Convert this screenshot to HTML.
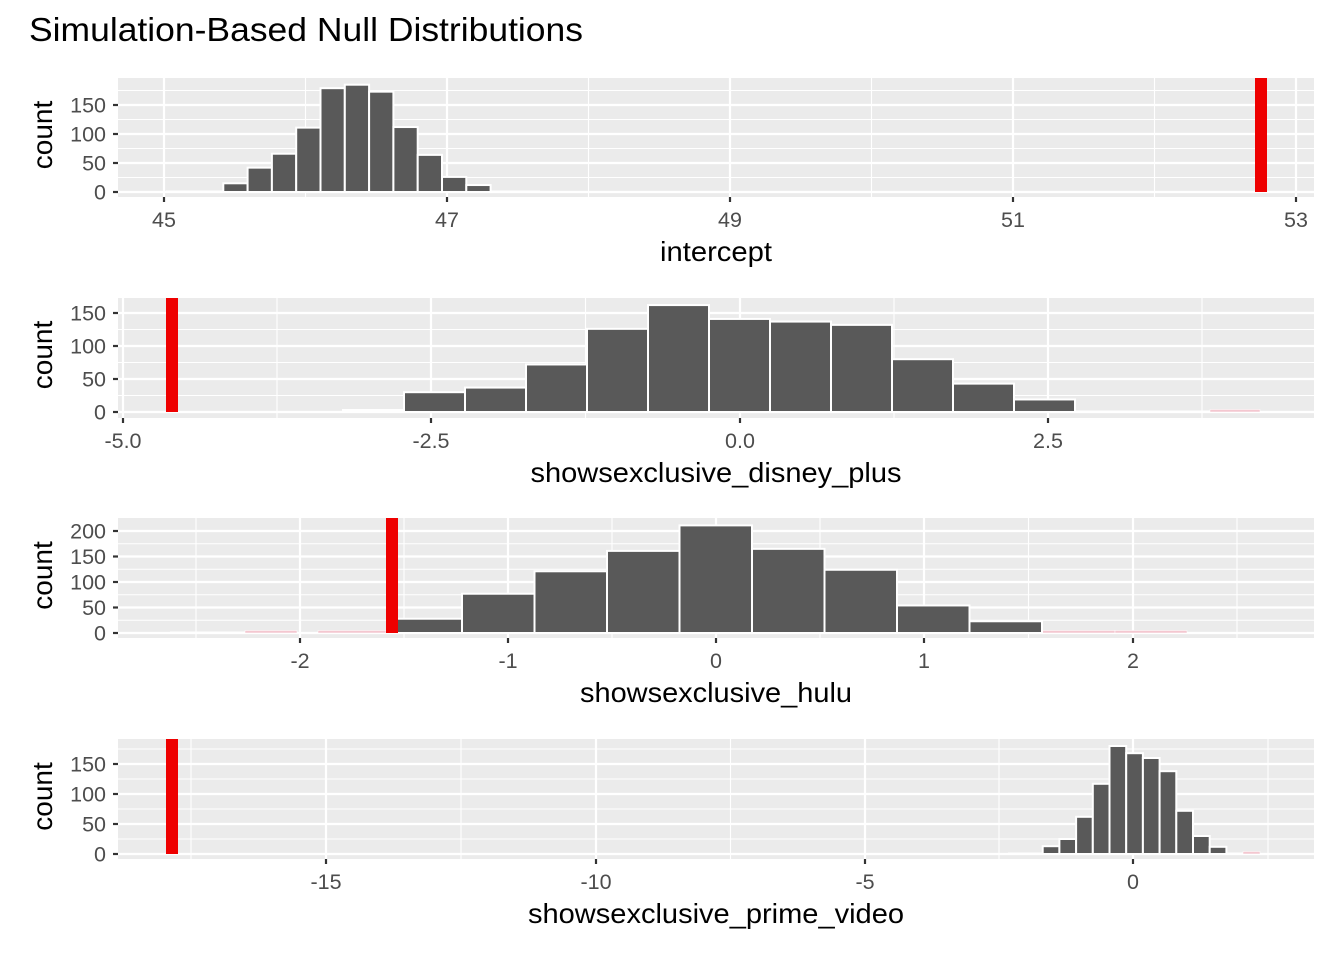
<!DOCTYPE html>
<html><head><meta charset="utf-8"><style>
html,body{margin:0;padding:0;background:#fff;}
svg{display:block;font-family:"Liberation Sans",sans-serif;}
</style></head><body>
<svg id="s" width="1344" height="960" xmlns="http://www.w3.org/2000/svg">
<text x="29" y="41" font-size="33" fill="#000" textLength="554" lengthAdjust="spacingAndGlyphs">Simulation-Based Null Distributions</text>
</svg>
<script>
const NS="http://www.w3.org/2000/svg",S=document.getElementById('s');
function el(t,a,txt){const e=document.createElementNS(NS,t);for(const k in a)e.setAttribute(k,a[k]);if(txt!==undefined)e.textContent=txt;S.appendChild(e);return e;}
const X0=118,X1=1314;
const panels=[
{top:78,bot:197,base:192,ppc:0.58,xmaj:[[164,'45'],[447,'47'],[730,'49'],[1013,'51'],[1296,'53']],xmin:[305.5,588.5,871.5,1154.5],
 ymaj:[[0,'0'],[50,'50'],[100,'100'],[150,'150']],ymin:[25,75,125,175],
 bars:{start:223.3,w:24.3,h:[15,42,66,111,179,185,173,112,64,26,12]},faint:[[166,223],[491,540]],pink:[],
 red:[1255,1267],title:'intercept',tl:112},
{top:298,bot:418,base:412,ppc:0.66,xmaj:[[123,'-5.0'],[431,'-2.5'],[740,'0.0'],[1048,'2.5']],xmin:[277,585.5,894,1202],
 ymaj:[[0,'0'],[50,'50'],[100,'100'],[150,'150']],ymin:[25,75,125,175],
 bars:{start:343,w:61,h:[3,30,37,72,126,162,141,137,132,80,43,19]},faint:[[1075,1210]],pink:[[1210,1260]],
 red:[166,178],title:'showsexclusive_disney_plus',tl:371},
{top:518,bot:638,base:633,ppc:0.51,xmaj:[[300,'-2'],[508,'-1'],[716,'0'],[924,'1'],[1133,'2']],xmin:[196,404,612,820,1028.5,1237],
 ymaj:[[0,'0'],[50,'50'],[100,'100'],[150,'150'],[200,'200']],ymin:[25,75,125,175],
 bars:{start:389.5,w:72.5,h:[28,77,121,161,211,165,124,54,23]},faint:[[170,245]],pink:[[245,297],[318,386],[1042,1115],[1115,1187]],
 red:[386,398],title:'showsexclusive_hulu',tl:272},
{top:739,bot:859,base:854,ppc:0.6,xmaj:[[326,'-15'],[596,'-10'],[865,'-5'],[1133,'0']],xmin:[191,461,730.5,999,1268],
 ymaj:[[0,'0'],[50,'50'],[100,'100'],[150,'150']],ymin:[25,75,125,175],
 bars:{start:1042.7,w:16.7,h:[13,25,62,117,180,168,160,138,72,30,12]},faint:[[1008,1042],[1226,1243]],pink:[[1243,1260]],
 red:[166,178],title:'showsexclusive_prime_video',tl:376}];
panels.forEach(p=>{
 el('rect',{x:X0,y:p.top,width:X1-X0,height:p.bot-p.top,fill:'#ebebeb'});
 p.ymin.forEach(v=>{const y=p.base-v*p.ppc;if(y>p.top)el('line',{x1:X0,x2:X1,y1:y,y2:y,stroke:'#fff','stroke-width':1.1});});
 p.xmin.forEach(x=>el('line',{x1:x,x2:x,y1:p.top,y2:p.bot,stroke:'#fff','stroke-width':1.1}));
 p.ymaj.forEach(([v,l])=>{const y=p.base-v*p.ppc;el('line',{x1:X0,x2:X1,y1:y,y2:y,stroke:'#fff','stroke-width':2.2});
  el('line',{x1:X0-5,x2:X0,y1:y,y2:y,stroke:'#333','stroke-width':2.2});
  el('text',{x:X0-12,y:y+7.5,'font-size':21.5,fill:'#4d4d4d','text-anchor':'end'},l);});
 p.xmaj.forEach(([x,l])=>{el('line',{x1:x,x2:x,y1:p.top,y2:p.bot,stroke:'#fff','stroke-width':2.2});
  el('line',{x1:x,x2:x,y1:p.bot,y2:p.bot+5,stroke:'#333','stroke-width':2.2});
  el('text',{x:x,y:p.bot+30,'font-size':21.5,fill:'#4d4d4d','text-anchor':'middle'},l);});
 p.faint.forEach(([a,b])=>el('rect',{x:a,y:p.base-1.5,width:b-a,height:1.5,fill:'#fff'}));
 p.pink.forEach(([a,b])=>el('rect',{x:a,y:p.base-2.5,width:b-a,height:2.5,fill:'#f4c7d0',stroke:'#fff','stroke-width':0.5}));
 p.bars.h.forEach((h,i)=>{const x=p.bars.start+i*p.bars.w,H=h*p.ppc;
  el('rect',{x:x,y:p.base-H,width:p.bars.w,height:H,fill:'#595959',stroke:'#fff','stroke-width':2});});
 el('rect',{x:p.red[0],y:p.top,width:p.red[1]-p.red[0],height:p.base-p.top,fill:'#ee0000'});
 el('text',{x:716-p.tl/2,y:p.bot+64,'font-size':28,fill:'#000',textLength:p.tl,lengthAdjust:'spacingAndGlyphs'},p.title);
 const cy=(p.top+p.base)/2;
 el('text',{x:52,y:cy,'font-size':28,fill:'#000','text-anchor':'middle',transform:`rotate(-90 52 ${cy})`},'count');
});
</script>
</body></html>
